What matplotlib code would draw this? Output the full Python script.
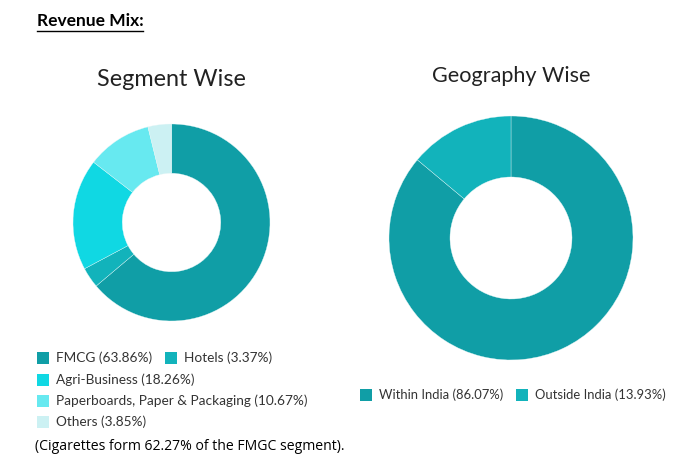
import matplotlib
matplotlib.use("Agg")
import matplotlib.pyplot as plt
from matplotlib.patches import Rectangle

W, H = 693, 468
DPI = 100

segment_labels = ["FMCG", "Hotels", "Agri-Business",
                  "Paperboards, Paper & Packaging", "Others"]
segment_values = [63.86, 3.37, 18.26, 10.67, 3.85]
segment_colors = ["#109ea6", "#12b3bb", "#10d8e3", "#67e9f0", "#ccf1f3"]

geo_labels = ["Within India", "Outside India"]
geo_values = [86.07, 13.93]
geo_colors = ["#109ea6", "#12b3bb"]

FONT = "Lato"


def px_axes(fig, cx, cy, r):
    # axes box in figure fraction from pixel centre / radius
    return fig.add_axes([(cx - r) / W, 1 - (cy + r) / H, 2 * r / W, 2 * r / H])


def donut(ax, values, colors):
    ax.pie(values, colors=colors, startangle=90, counterclock=False,
           wedgeprops=dict(width=0.5, edgecolor="#e8f8f8", linewidth=0.25))
    ax.set_xlim(-1, 1)
    ax.set_ylim(-1, 1)
    ax.set_aspect("equal")
    ax.axis("off")


def legend_item(ax, x, y, color, text, size):
    ax.add_patch(Rectangle((x, y - 6), 12, 12, facecolor=color, edgecolor="none"))
    ax.text(x + 19, y, text, fontsize=size, family=FONT, color="#333333",
            va="center", ha="left")


fig = plt.figure(figsize=(W / DPI, H / DPI), dpi=DPI)
bg = fig.add_axes([0, 0, 1, 1])
bg.set_xlim(0, W)
bg.set_ylim(H, 0)
bg.axis("off")

# header
bg.text(37, 21, "Revenue Mix:", fontsize=12.5, fontweight="bold", family=FONT,
        va="center", ha="left", color="black")
bg.plot([37, 143], [31, 31], color="black", lw=1.0)

bg.text(171, 80, "Segment Wise", fontsize=16.8, family=FONT, color="#222222",
        ha="center", va="center")
bg.text(511, 76, "Geography Wise", fontsize=15.6, family=FONT, color="#222222",
        ha="center", va="center")

ax1 = px_axes(fig, 171.5, 222.5, 98.5)
donut(ax1, segment_values, segment_colors)

ax2 = px_axes(fig, 511, 238, 122)
donut(ax2, geo_values, geo_colors)

seg_text = [f"{l} ({v:.2f}%)" for l, v in zip(segment_labels, segment_values)]
legend_item(bg, 37, 358, segment_colors[0], seg_text[0], 9.8)
legend_item(bg, 165, 358, segment_colors[1], seg_text[1], 9.8)
legend_item(bg, 37, 380, segment_colors[2], seg_text[2], 9.8)
legend_item(bg, 37, 401, segment_colors[3], seg_text[3], 9.8)
legend_item(bg, 37, 422, segment_colors[4], seg_text[4], 9.8)

geo_text = [f"{l} ({v:.2f}%)" for l, v in zip(geo_labels, geo_values)]
legend_item(bg, 360, 395, geo_colors[0], geo_text[0], 9.4)
legend_item(bg, 516, 395, geo_colors[1], geo_text[1], 9.4)

bg.text(35, 447, "(Cigarettes form 62.27% of the FMGC segment).", fontsize=10.1,
        family="Open Sans", color="black", va="center", ha="left")

fig.savefig("out.png", dpi=DPI)
